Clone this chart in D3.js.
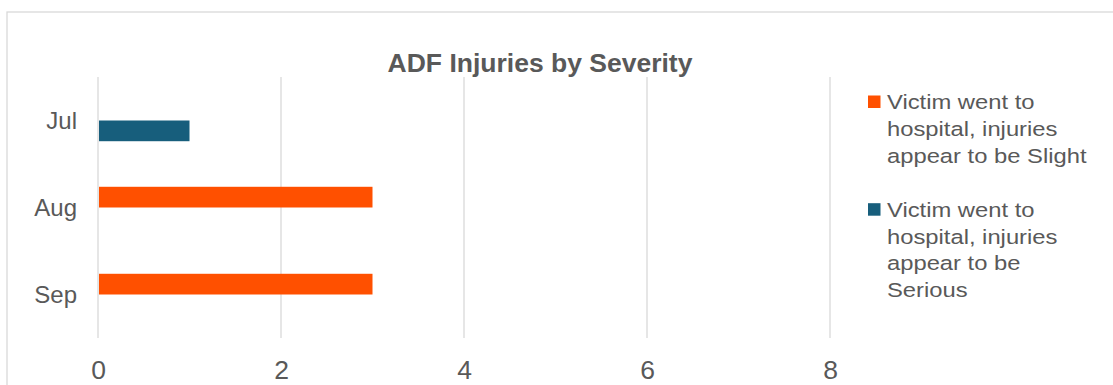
<!DOCTYPE html>
<html>
<head>
<meta charset="utf-8">
<script src="https://cdn.jsdelivr.net/npm/d3@7"></script>
<style>
  html, body { margin: 0; padding: 0; background: #ffffff; }
  svg { display: block; font-family: Arial, "Liberation Sans", sans-serif; }
</style>
</head>
<body>
<svg id="chart" width="1113" height="385"></svg>
<script>
// Monthly injury counts by severity
const months = ["Jul", "Aug", "Sep"];
const seriesNames = [
  "Victim went to hospital, injuries appear to be Slight",
  "Victim went to hospital, injuries appear to be Serious"
];
const slightValues = [0, 3, 3];
const seriousValues = [1, 0, 0];
const xTickValues = [0, 2, 4, 6, 8];
const legendLines = [
  ["Victim went to", "hospital, injuries", "appear to be Slight"],
  ["Victim went to", "hospital, injuries", "appear to be", "Serious"]
];
const seriesColors = ["#ff5000", "#175e7c"];

const textColor = "#595959";
const gridColor = "#d9d9d9";

const svg = d3.select("#chart");

// Chart frame
svg.append("rect")
  .attr("x", 7).attr("y", 12)
  .attr("width", 1200).attr("height", 500)
  .attr("fill", "#fff")
  .attr("stroke", gridColor)
  .attr("stroke-width", 1.3);

// Title
svg.append("text")
  .attr("x", 540).attr("y", 72)
  .attr("text-anchor", "middle")
  .attr("font-size", 26.5)
  .attr("font-weight", "bold")
  .attr("fill", textColor)
  .text("ADF Injuries by Severity");

const plotTop = 77, plotBottom = 338;

const x = d3.scaleLinear().domain([0, 8]).range([98, 830]);
const y = d3.scaleBand().domain(months).range([plotTop, plotBottom]).paddingInner(0).paddingOuter(0);
const ySub = d3.scaleBand().domain(seriesNames).range([0, y.bandwidth()]).paddingInner(0).paddingOuter(1.1);

// Vertical gridlines
svg.append("g")
  .selectAll("line")
  .data(xTickValues)
  .join("line")
  .attr("x1", d => x(d)).attr("x2", d => x(d))
  .attr("y1", plotTop).attr("y2", plotBottom)
  .attr("stroke", gridColor)
  .attr("stroke-width", 1.3);

// Bars
const rows = months.map((m, i) => ({ month: m, values: [slightValues[i], seriousValues[i]] }));
const barGroups = svg.append("g")
  .selectAll("g")
  .data(rows)
  .join("g")
  .attr("transform", d => `translate(0,${y(d.month)})`);

barGroups.selectAll("rect")
  .data(d => d.values.map((v, j) => ({ name: seriesNames[j], value: v, color: seriesColors[j] })))
  .join("rect")
  .filter(d => d.value > 0)
  .attr("x", x(0) + 1)
  .attr("y", d => ySub(d.name))
  .attr("width", d => x(d.value) - x(0) - 1)
  .attr("height", ySub.bandwidth())
  .attr("fill", d => d.color);

// Value axis labels
const xAxis = d3.axisBottom(x).tickValues(xTickValues).tickSize(0).tickPadding(0).tickFormat(d3.format("d"));
const xAxisG = svg.append("g")
  .attr("transform", "translate(0,379)")
  .call(xAxis);
xAxisG.select(".domain").remove();
xAxisG.selectAll("text")
  .attr("y", 0).attr("dy", 0)
  .attr("font-size", 26.5)
  .attr("font-family", "Arial, 'Liberation Sans', sans-serif")
  .attr("fill", textColor);

// Category axis labels
const yAxis = d3.axisLeft(y).tickSize(0).tickPadding(0);
const yAxisG = svg.append("g")
  .attr("transform", "translate(77,0)")
  .call(yAxis);
yAxisG.select(".domain").remove();
yAxisG.selectAll("text")
  .attr("x", 0).attr("dy", "0.35em")
  .attr("font-size", 24)
  .attr("font-family", "Arial, 'Liberation Sans', sans-serif")
  .attr("fill", textColor);

// Legend
const legendTops = [109, 216.7];
const lineGap = 26.8;
const legend = svg.append("g");
legendLines.forEach((lines, i) => {
  const g = legend.append("g");
  g.append("rect")
    .attr("x", 868).attr("y", legendTops[i] - 13.5)
    .attr("width", 12.5).attr("height", 12.5)
    .attr("fill", seriesColors[i]);
  lines.forEach((line, k) => {
    g.append("text")
      .attr("transform", `translate(887,${legendTops[i] + k * lineGap}) scale(1.16,1)`)
      .attr("font-size", 20.5)
      .attr("fill", textColor)
      .text(line);
  });
});
</script>
</body>
</html>
